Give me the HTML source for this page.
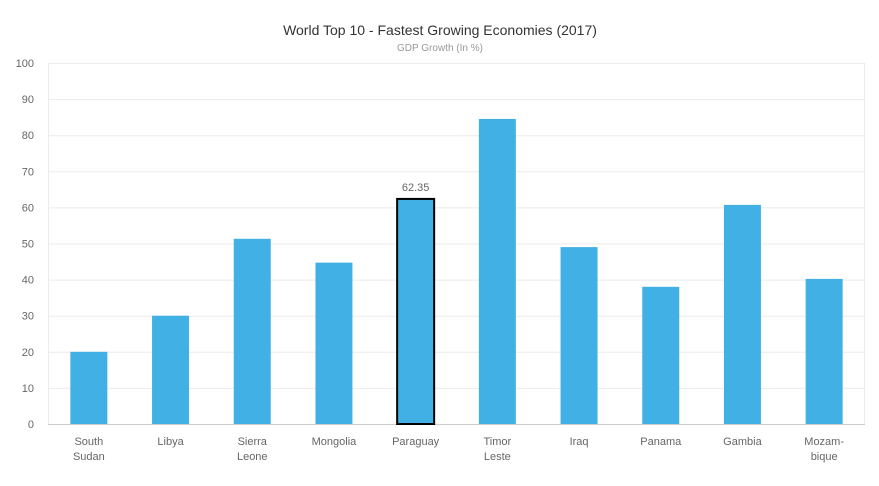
<!DOCTYPE html>
<html><head><meta charset="utf-8"><style>
body{margin:0;background:#fff;font-family:"Liberation Sans",sans-serif;}
svg text{font-family:"Liberation Sans",sans-serif;}
</style></head><body>
<svg id="chart" width="879" height="481">
<rect width="879" height="481" fill="#fff"/>
<text x="440" y="35" text-anchor="middle" font-size="14" fill="#333">World Top 10 - Fastest Growing Economies (2017)</text>
<text x="440" y="51" text-anchor="middle" font-size="10" fill="#999">GDP Growth (In %)</text>
<g id="grid"></g><g id="bars"></g><g id="labels"></g>
</svg>
<script>
const categories=[["South","Sudan"],["Libya"],["Sierra","Leone"],["Mongolia"],["Paraguay"],["Timor","Leste"],["Iraq"],["Panama"],["Gambia"],["Mozam-","bique"]];
const values=[20,30,51.3,44.7,62.35,84.5,49,38,60.7,40.2];
const yTicks=[0,10,20,30,40,50,60,70,80,90,100];
const highlightIndex=4;
const NS="http://www.w3.org/2000/svg";
const L=48,R=865,T=63,B=424;
const y=v=>B-(v/100)*(B-T);
const bw=(R-L)/categories.length;
const x=i=>L+bw*(i+0.5);
function mk(tag,attrs,parent){const e=document.createElementNS(NS,tag);for(const k in attrs)e.setAttribute(k,attrs[k]);parent.appendChild(e);return e;}
const g=document.getElementById('grid'),gb=document.getElementById('bars'),gl=document.getElementById('labels');
yTicks.forEach(t=>{
 const ln=mk('line',{x1:L,x2:R,y1:y(t)+0.5,y2:y(t)+0.5,stroke:t===0?'#ccc':'#ebebeb'},g);
 
 
 const tx=mk('text',{x:34,y:y(t)+4,'text-anchor':'end','font-size':11,fill:'#666'},g);
 tx.textContent=t;
 
 
});
const vl=mk('line',{x1:L+0.5,x2:L+0.5,y1:T,y2:B,stroke:'#ebebeb'},g);


const vr=mk('line',{x1:R-0.5,x2:R-0.5,y1:T,y2:B,stroke:'#ebebeb'},g);


values.forEach((v,i)=>{
 const w=37,hl=i===highlightIndex;
 const r=mk('rect',{x:x(i)-w/2,y:y(v),width:w,height:B-y(v),fill:'#41b0e4'},gb);
 if(hl){r.setAttribute('stroke','#000');r.setAttribute('stroke-width','2');}
 
 
 if(hl){
  const vt=mk('text',{x:x(i),y:y(v)-8,'text-anchor':'middle','font-size':11,fill:'#666'},gl);
  vt.textContent=v.toFixed(2);
  
  
 }
 categories[i].forEach((s,j)=>{
  const t=mk('text',{x:x(i),y:445+j*15,'text-anchor':'middle','font-size':11,fill:'#666'},gl);
  t.textContent=s;
  
  
 });
});
</script>
</body></html>
